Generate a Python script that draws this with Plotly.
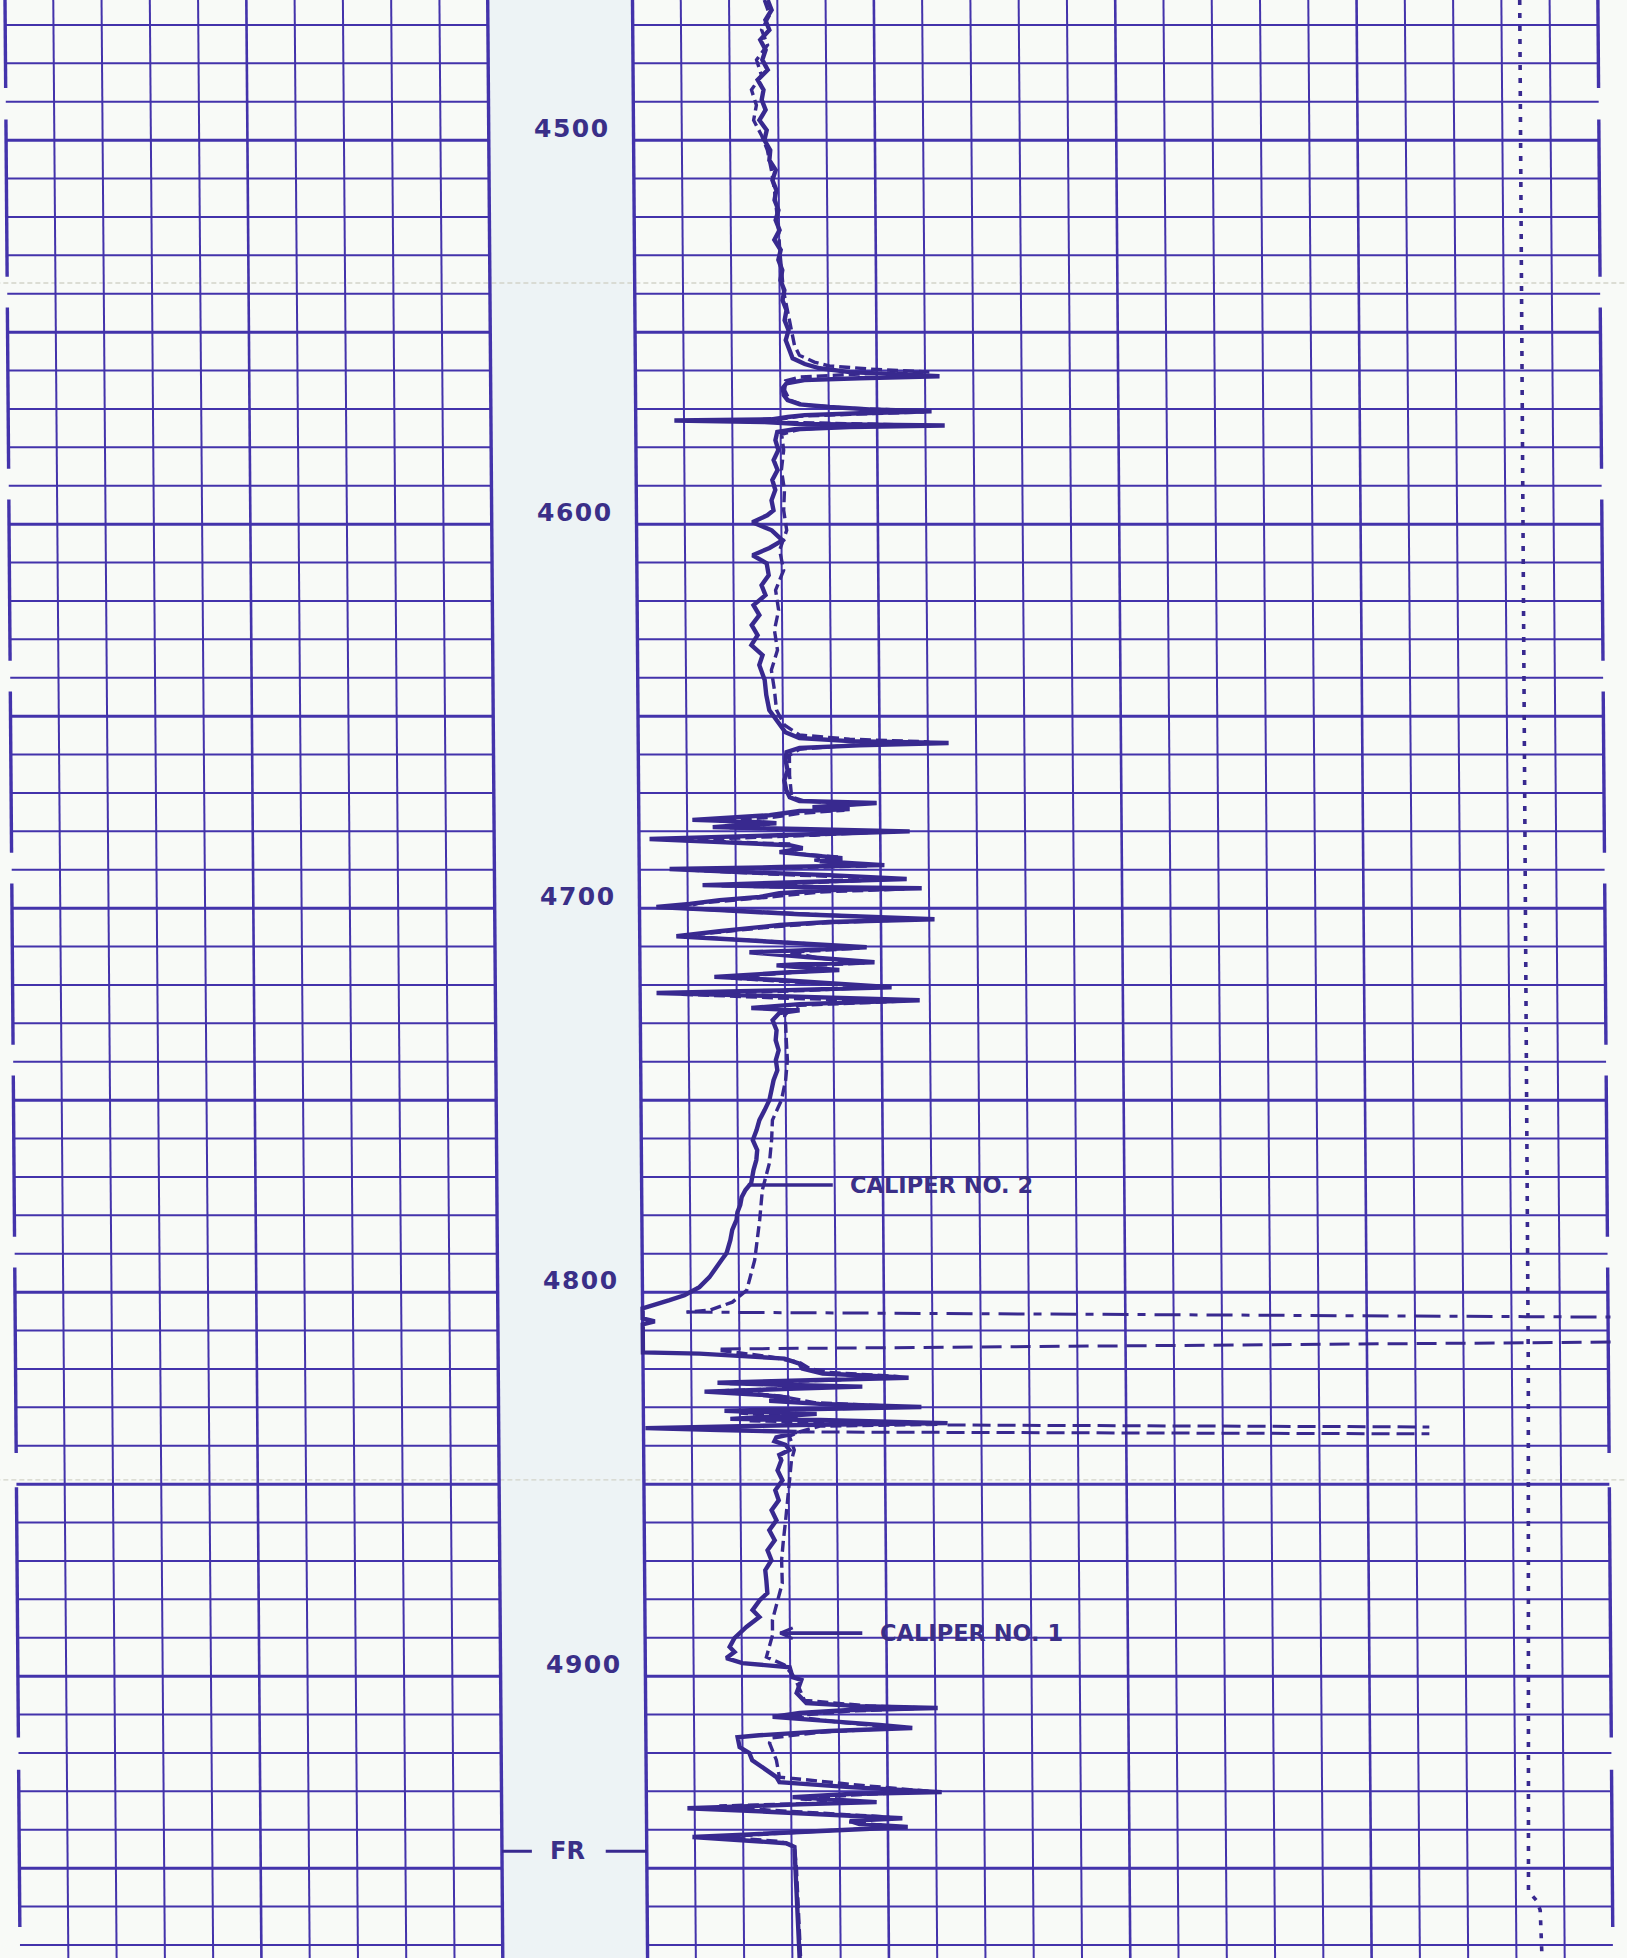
import plotly.graph_objects as go

# ---------------- data (depth in feet, readings in chart divisions of the right track, 0..20) -------------
TOP_DEPTH, BOTTOM_DEPTH = 4463.5, 4973.4
DEPTH_LABELS = [4500, 4600, 4700, 4800, 4900]
FR_DEPTH = 4945.6

# Caliper No. 2 (solid curve)
CAL2_DEPTH = [
    4463.5, 4466.1, 4468.7, 4471.3, 4473.9, 4476.5, 4479.1, 4481.7, 4484.3, 4486.9,
    4489.5, 4492.1, 4494.8, 4497.4, 4500.0, 4502.6, 4505.2, 4507.8, 4510.4, 4513.0,
    4515.6, 4518.2, 4520.8, 4523.4, 4526.0, 4528.6, 4531.2, 4533.9, 4536.5, 4539.1,
    4541.7, 4544.3, 4546.9, 4549.5, 4552.1, 4554.7, 4556.8, 4558.3, 4559.4, 4560.4,
    4561.5, 4562.0, 4562.5, 4563.3, 4564.6, 4566.4, 4567.7, 4568.8, 4569.5, 4570.1,
    4570.6, 4571.1, 4571.6, 4572.1, 4572.7, 4573.0, 4573.4, 4573.9, 4574.3, 4574.7,
    4575.3, 4576.0, 4578.1, 4580.7, 4583.3, 4585.9, 4588.5, 4591.1, 4593.8, 4596.4,
    4597.7, 4599.5, 4601.6, 4604.2, 4606.2, 4608.1, 4610.2, 4613.3, 4615.9, 4618.5,
    4621.1, 4623.7, 4626.3, 4628.9, 4631.5, 4634.1, 4636.7, 4640.6, 4644.5, 4648.4,
    4651.6, 4654.2, 4655.7, 4656.5, 4657.0, 4657.6, 4658.3, 4659.4, 4661.5, 4664.1,
    4666.7, 4669.3, 4671.1, 4672.1, 4672.6, 4673.2, 4673.7, 4674.2, 4674.7, 4675.8,
    4677.0, 4677.6, 4677.9, 4678.4, 4678.9, 4679.4, 4680.0, 4680.7, 4681.2, 4682.0,
    4682.8, 4683.6, 4684.4, 4685.4, 4686.2, 4687.0, 4687.8, 4688.8, 4689.3, 4689.8,
    4690.6, 4691.4, 4692.4, 4693.2, 4694.0, 4694.5, 4694.8, 4695.3, 4696.1, 4697.1,
    4697.9, 4698.9, 4699.7, 4700.5, 4701.6, 4702.9, 4703.6, 4704.4, 4704.9, 4706.0,
    4707.3, 4708.3, 4709.4, 4710.2, 4711.0, 4711.5, 4712.8, 4714.1, 4714.6, 4714.9,
    4715.6, 4716.1, 4716.7, 4717.4, 4717.9, 4718.7, 4719.8, 4720.6, 4721.4, 4722.1,
    4722.9, 4724.0, 4725.0, 4726.0, 4726.6, 4727.3, 4729.2, 4731.8, 4734.4, 4737.0,
    4739.6, 4742.2, 4744.8, 4747.4, 4750.0, 4752.6, 4755.2, 4757.8, 4760.4, 4763.0,
    4765.6, 4768.2, 4771.6, 4773.4, 4775.3, 4777.3, 4779.2, 4781.2, 4783.8, 4786.4,
    4789.8, 4791.7, 4793.5, 4796.1, 4798.7, 4800.8, 4802.1, 4803.4, 4804.2, 4806.8,
    4807.6, 4808.4, 4815.7, 4816.0, 4816.8, 4817.3, 4818.6, 4819.9, 4821.2, 4822.3,
    4822.8, 4823.6, 4824.1, 4824.6, 4825.2, 4825.9, 4826.7, 4827.5, 4828.3, 4829.1,
    4829.9, 4830.4, 4830.9, 4831.5, 4831.7, 4832.3, 4833.0, 4833.3, 4834.1, 4834.6,
    4835.4, 4835.9, 4836.4, 4837.2, 4837.8, 4838.8, 4839.8, 4841.1, 4842.4, 4843.8,
    4846.4, 4849.0, 4851.6, 4854.2, 4856.8, 4859.4, 4862.0, 4864.6, 4867.2, 4869.8,
    4872.4, 4875.0, 4878.4, 4880.2, 4882.8, 4884.6, 4887.2, 4890.1, 4892.4, 4893.7,
    4895.3, 4896.6, 4897.7, 4900.3, 4901.0, 4904.4, 4907.0, 4907.8, 4908.3, 4908.8,
    4909.6, 4910.6, 4911.4, 4912.7, 4913.5, 4914.3, 4915.4, 4915.9, 4918.5, 4920.0,
    4921.9, 4923.7, 4926.3, 4927.6, 4928.9, 4930.2, 4930.7, 4931.5, 4932.3, 4932.8,
    4933.4, 4934.4, 4935.2, 4936.2, 4937.0, 4937.7, 4938.5, 4939.3, 4940.1, 4941.2,
    4941.9, 4942.7, 4943.5, 4944.5, 4950.5, 4958.3, 4966.1, 4973.4,
]
CAL2_VALUE = [
    2.80, 2.88, 2.75, 2.83, 2.64, 2.75, 2.68, 2.79, 2.58, 2.70,
    2.66, 2.74, 2.61, 2.76, 2.71, 2.83, 2.81, 2.94, 2.87, 2.95,
    2.91, 2.99, 2.93, 3.01, 2.90, 3.03, 2.98, 3.06, 3.02, 3.10,
    3.06, 3.14, 3.10, 3.18, 3.12, 3.20, 3.26, 3.51, 3.82, 4.44,
    6.30, 4.64, 3.50, 3.13, 3.05, 3.07, 3.15, 3.40, 4.02, 4.84,
    6.13, 4.64, 3.50, 3.15, 2.81, 0.80, 2.67, 3.39, 6.40, 4.43,
    3.29, 2.93, 2.89, 2.95, 2.85, 2.93, 2.82, 2.88, 2.80, 2.84,
    2.71, 2.40, 2.80, 3.02, 2.75, 2.40, 2.69, 2.73, 2.58, 2.66,
    2.41, 2.53, 2.37, 2.49, 2.36, 2.59, 2.52, 2.63, 2.66, 2.72,
    2.89, 3.05, 3.34, 4.38, 6.43, 4.58, 3.34, 3.07, 3.05, 3.09,
    3.02, 3.06, 3.13, 3.33, 4.93, 3.95, 3.60, 4.37, 3.33, 2.71,
    1.11, 2.50, 2.85, 2.08, 1.53, 3.33, 5.61, 3.74, 2.50, 0.22,
    1.67, 3.12, 3.39, 2.91, 3.53, 4.21, 3.74, 5.08, 2.91, 0.63,
    2.08, 3.94, 5.54, 3.32, 1.31, 3.32, 5.85, 3.94, 2.90, 2.49,
    1.66, 1.04, 0.35, 1.66, 3.31, 6.11, 3.93, 2.90, 2.48, 1.65,
    0.76, 2.07, 3.31, 4.70, 3.31, 2.27, 3.51, 4.86, 3.31, 2.83,
    3.51, 4.13, 3.10, 2.27, 1.54, 2.89, 4.13, 5.21, 2.89, 0.34,
    2.89, 5.79, 3.30, 2.30, 3.30, 2.88, 2.74, 2.82, 2.80, 2.86,
    2.80, 2.83, 2.75, 2.71, 2.66, 2.56, 2.45, 2.39, 2.31, 2.40,
    2.38, 2.32, 2.27, 2.15, 2.07, 2.04, 1.98, 1.96, 1.87, 1.83,
    1.75, 1.64, 1.54, 1.39, 1.18, 0.87, 0.56, 0.25, 0.00, 0.00,
    0.25, 0.00, 0.00, 1.17, 2.41, 2.93, 3.24, 3.30, 3.72, 5.50,
    3.86, 1.54, 2.82, 4.54, 3.03, 1.27, 2.41, 3.03, 2.61, 3.65,
    5.76, 3.23, 1.68, 3.03, 3.59, 2.82, 1.80, 3.65, 6.30, 3.23,
    0.04, 1.57, 3.17, 2.96, 2.75, 2.71, 2.94, 3.02, 2.81, 2.85,
    2.77, 2.87, 2.72, 2.79, 2.64, 2.74, 2.59, 2.70, 2.55, 2.63,
    2.50, 2.52, 2.54, 2.38, 2.23, 2.37, 2.10, 1.85, 1.75, 1.85,
    1.68, 2.01, 2.99, 3.05, 3.23, 3.13, 3.33, 4.43, 6.05, 4.22,
    3.19, 2.63, 3.60, 4.84, 5.52, 3.80, 2.35, 1.90, 1.94, 2.14,
    2.20, 2.41, 2.70, 2.76, 4.21, 6.12, 4.21, 3.03, 4.21, 4.77,
    3.17, 0.85, 2.34, 4.21, 5.30, 4.21, 4.41, 5.41, 3.79, 2.13,
    0.95, 2.13, 2.89, 3.06, 3.08, 3.09, 3.13, 3.15,
]

# Caliper No. 1 (dashed curve); None marks the off-scale interval
CAL1_DEPTH = [
    4463.5, 4467.4, 4471.3, 4475.2, 4479.1, 4483.1, 4486.9, 4490.9, 4494.8, 4498.7,
    4502.6, 4507.8, 4513.0, 4518.2, 4523.4, 4528.6, 4533.9, 4539.1, 4544.3, 4549.5,
    4553.4, 4556.0, 4557.8, 4558.8, 4559.6, 4560.4, 4560.9, 4561.7, 4562.7, 4565.1,
    4567.7, 4569.0, 4569.8, 4570.3, 4570.8, 4571.4, 4571.9, 4572.7, 4573.0, 4573.4,
    4574.1, 4574.5, 4575.3, 4576.6, 4580.7, 4585.9, 4591.1, 4596.4, 4601.6, 4606.8,
    4612.0, 4617.2, 4622.4, 4627.6, 4632.8, 4638.0, 4643.2, 4648.4, 4652.3, 4654.9,
    4656.0, 4656.7, 4657.6, 4658.6, 4660.2, 4665.4, 4671.1, 4672.1, 4672.9, 4673.7,
    4674.5, 4675.3, 4676.3, 4677.3, 4678.1, 4679.1, 4680.0, 4681.0, 4682.3, 4683.3,
    4684.6, 4685.6, 4686.7, 4687.5, 4689.0, 4689.5, 4690.1, 4691.1, 4692.4, 4693.5,
    4694.2, 4695.0, 4695.8, 4697.1, 4698.7, 4700.0, 4701.3, 4702.9, 4703.9, 4705.2,
    4706.8, 4707.6, 4709.1, 4710.4, 4711.5, 4713.0, 4714.3, 4715.1, 4716.1, 4717.2,
    4718.2, 4719.3, 4720.6, 4721.6, 4722.4, 4723.5, 4724.2, 4725.3, 4726.6, 4727.9,
    4730.5, 4734.4, 4739.6, 4744.8, 4750.0, 4755.2, 4760.4, 4766.4, 4773.4, 4781.2,
    4791.7, 4799.5, 4802.6, 4804.7, 4805.2, None,
    4815.2, 4816.8, 4818.3, 4819.9, 4820.9, 4822.0, 4822.8, 4823.8, 4824.6, 4825.7,
    4827.0, 4828.8, 4829.9, 4830.6, 4831.5, 4832.5, 4833.5, 4834.4, 4834.9, 4836.4,
    4837.5, 4839.1, 4841.1, 4843.8, 4849.0, 4854.2, 4859.4, 4864.6, 4869.8, 4875.8,
    4880.2, 4885.4, 4889.3, 4895.0, 4897.1, 4900.3, 4906.3, 4907.8, 4908.3, 4909.1,
    4910.4, 4912.0, 4913.5, 4914.6, 4916.1, 4917.4, 4921.9, 4926.3, 4928.4, 4930.0,
    4931.0, 4932.0, 4932.8, 4933.8, 4934.9, 4936.7, 4938.0, 4939.3, 4940.6, 4941.9,
    4943.0, 4944.3, 4950.5, 4973.4,
]
CAL1_VALUE = [
    2.73, 2.84, 2.67, 2.79, 2.56, 2.66, 2.45, 2.55, 2.49, 2.65,
    2.77, 2.85, 2.91, 2.95, 2.99, 3.01, 3.04, 3.08, 3.16, 3.24,
    3.30, 3.40, 3.71, 4.02, 4.85, 6.09, 4.64, 3.40, 3.11, 3.09,
    3.19, 3.50, 4.43, 5.47, 5.98, 4.43, 3.39, 2.98, 1.32, 2.77,
    5.46, 4.43, 3.39, 3.02, 3.06, 3.01, 3.07, 3.05, 3.11, 2.96,
    3.04, 2.87, 2.93, 2.84, 2.90, 2.77, 2.83, 2.87, 3.03, 3.34,
    4.38, 6.03, 4.38, 3.34, 3.13, 3.13, 3.17, 3.44, 4.57, 3.74,
    4.26, 3.33, 2.81, 1.67, 2.71, 1.88, 5.19, 3.64, 0.84, 3.12,
    3.32, 3.01, 4.15, 3.63, 4.77, 3.11, 1.04, 2.70, 5.29, 3.32,
    1.66, 5.49, 3.73, 2.70, 1.24, 0.83, 2.90, 5.80, 3.73, 2.48,
    1.24, 1.24, 3.31, 4.55, 3.10, 3.72, 4.65, 3.31, 3.93, 2.68,
    1.85, 3.30, 4.96, 3.09, 0.81, 3.09, 5.47, 3.30, 3.09, 2.99,
    3.01, 3.02, 3.04, 3.00, 2.91, 2.72, 2.70, 2.65, 2.50, 2.44,
    2.33, 2.16, 1.86, 1.39, 0.91, None,
    1.61, 2.62, 3.24, 3.45, 3.86, 5.31, 4.07, 1.79, 4.27, 1.58,
    2.82, 3.55, 5.51, 3.23, 1.99, 3.23, 2.20, 6.13, 3.65, 3.23,
    3.02, 3.06, 3.12, 3.06, 3.02, 2.97, 2.93, 2.88, 2.84, 2.85,
    2.75, 2.64, 2.64, 2.51, 2.88, 3.09, 3.29, 4.64, 5.88, 4.22,
    2.98, 4.01, 5.26, 3.60, 2.60, 2.56, 2.70, 2.76, 4.42, 5.87,
    4.21, 3.17, 4.42, 1.51, 2.55, 5.03, 4.20, 5.24, 3.17, 1.51,
    2.75, 3.06, 3.10, 3.17,
]

# off-scale excursions drawn across the track
DASHDOT_DEPTH, DASHDOT_VALUE = [4805.2, 4806.5], [0.91, 20.05]
DASHED_DEPTH, DASHED_VALUE = [4814.8, 4813.0], [1.61, 20.05]
DOUBLE_UP_DEPTH, DOUBLE_UP_VALUE = [4834.6, 4835.1], [6.30, 16.28]
DOUBLE_LO_DEPTH, DOUBLE_LO_VALUE = [4836.4, 4836.9], [3.17, 16.28]

# dotted curve near the right edge
DOTTED_DEPTH = [4463.5, 4568.0, 4700.0, 4820.0, 4956.0, 4958.5, 4961.0, 4973.4]
DOTTED_VALUE = [18.38, 18.37, 18.36, 18.34, 18.26, 18.43, 18.50, 18.53]

# annotations
CAL2_LABEL_DEPTH, CAL2_LEADER = 4772.1, [2.20, 3.96]
CAL1_LABEL_DEPTH, CAL1_LEADER = 4888.8, [2.80, 4.50]

# gaps in the outer borders (depth ranges)
BORDER_GAPS = [(4486.4, 4494.6), (4535.6, 4543.6), (4585.6, 4593.6), (4635.6, 4643.6),
               (4685.6, 4693.6), (4735.6, 4743.6), (4785.6, 4793.6), (4841.9, 4850.8),
               (4916.0, 4924.4), (4965.3, 4973.4)]

# ---------------- styling ----------------
GRID = "#4333ab"
INK = "#38298f"
TEXT = "#3a2f88"
PAPER = "#f8faf7"
COLUMN = "#edf3f5"
LEFT0, LEFT1, RIGHT0, RIGHT1 = 0, 10, 13, 33
SKEW = 0.3125 / (BOTTOM_DEPTH - TOP_DEPTH)   # scan skew (divisions per foot)


def sx(d):
    return SKEW * (d - TOP_DEPTH)


def track(values, depths):
    return [None if v is None else RIGHT0 + v + sx(d) for v, d in zip(values, depths)]


assert len(CAL2_DEPTH) == len(CAL2_VALUE)
assert len(CAL1_DEPTH) == len(CAL1_VALUE)

fig = go.Figure()

# depth column background
T, B = TOP_DEPTH, BOTTOM_DEPTH
fig.add_trace(go.Scatter(x=[LEFT1 + sx(T), RIGHT0 + sx(T), RIGHT0 + sx(B), LEFT1 + sx(B), LEFT1 + sx(T)],
                         y=[T, T, B, B, T], fill="toself", fillcolor=COLUMN, mode="lines",
                         line=dict(width=0, color=COLUMN), hoverinfo="skip"))

# faint folds in the paper
for fd in [4537.2, 4848.9]:
    fig.add_trace(go.Scatter(x=[-0.2, 33.7], y=[fd, fd], mode="lines",
                             line=dict(color="#d2d4c9", width=1.4, dash="5px,3px"), hoverinfo="skip"))

groups = {"thin": ([], []), "mid": ([], []), "heavy": ([], []), "border": ([], [])}


def seg(g, x0, d0, x1, d1):
    xs, ys = groups[g]
    xs += [x0 + sx(d0), x1 + sx(d1), None]
    ys += [d0, d1, None]


for d in range(4470, 4971, 10):
    g = "heavy" if d % 50 == 0 else "thin"
    seg(g, LEFT0, d, LEFT1, d)
    seg(g, RIGHT0, d, RIGHT1, d)
for i in range(1, 10):
    seg("mid" if i == 5 else "thin", i, T, i, B)
for j in range(1, 20):
    seg("mid" if j % 5 == 0 else "thin", RIGHT0 + j, T, RIGHT0 + j, B)
seg("border", LEFT1, T, LEFT1, B)
seg("border", RIGHT0, T, RIGHT0, B)
edges = [T]
for a, b in BORDER_GAPS:
    edges += [a, b]
edges.append(B)
for k in range(0, len(edges) - 1, 2):
    if edges[k + 1] > edges[k]:
        seg("border", LEFT0, edges[k], LEFT0, edges[k + 1])
        seg("border", RIGHT1, edges[k], RIGHT1, edges[k + 1])

widths = {"thin": 2.0, "mid": 2.6, "heavy": 3.0, "border": 3.4}
for g, (xs, ys) in groups.items():
    fig.add_trace(go.Scatter(x=xs, y=ys, mode="lines", line=dict(color=GRID, width=widths[g]),
                             hoverinfo="skip", connectgaps=False))

# dotted curve
fig.add_trace(go.Scatter(x=track(DOTTED_VALUE, DOTTED_DEPTH), y=DOTTED_DEPTH, mode="lines",
                         line=dict(color=INK, width=3.6, dash="5px,8px"), hoverinfo="skip"))

# off-scale lines
for dd, vv, dash in [(DASHDOT_DEPTH, DASHDOT_VALUE, "26px,9px,8px,9px"),
                     (DASHED_DEPTH, DASHED_VALUE, "20px,9px"),
                     (DOUBLE_UP_DEPTH, DOUBLE_UP_VALUE, "18px,7px"),
                     (DOUBLE_LO_DEPTH, DOUBLE_LO_VALUE, "18px,7px")]:
    fig.add_trace(go.Scatter(x=track(vv, dd), y=dd, mode="lines",
                             line=dict(color=INK, width=3.0, dash=dash), hoverinfo="skip"))

# caliper curves
fig.add_trace(go.Scatter(x=track(CAL1_VALUE, CAL1_DEPTH), y=CAL1_DEPTH, mode="lines",
                         line=dict(color=INK, width=3.4, dash="11px,5px"), hoverinfo="skip",
                         connectgaps=False))
fig.add_trace(go.Scatter(x=track(CAL2_VALUE, CAL2_DEPTH), y=CAL2_DEPTH, mode="lines",
                         line=dict(color=INK, width=4.4), hoverinfo="skip"))

# leaders
d2 = CAL2_LABEL_DEPTH
fig.add_trace(go.Scatter(x=track(CAL2_LEADER, [d2, d2]), y=[d2, d2], mode="lines",
                         line=dict(color=INK, width=3.6), hoverinfo="skip"))
d1 = CAL1_LABEL_DEPTH
fig.add_trace(go.Scatter(x=track(CAL1_LEADER, [d1, d1]), y=[d1, d1], mode="lines",
                         line=dict(color=INK, width=3.6), hoverinfo="skip"))
tip = CAL1_LEADER[0]
fig.add_trace(go.Scatter(x=track([tip + 0.26, tip, tip + 0.26], [d1 - 1.4, d1, d1 + 1.4]),
                         y=[d1 - 1.4, d1, d1 + 1.4], mode="lines",
                         line=dict(color=INK, width=3.0), hoverinfo="skip"))

# FR ticks
fig.add_trace(go.Scatter(x=[LEFT1 + sx(FR_DEPTH), LEFT1 + 0.62 + sx(FR_DEPTH), None,
                            RIGHT0 - 0.85 + sx(FR_DEPTH), RIGHT0 + sx(FR_DEPTH)],
                         y=[FR_DEPTH, FR_DEPTH, None, FR_DEPTH, FR_DEPTH], mode="lines",
                         line=dict(color=INK, width=3.0), hoverinfo="skip"))


def spaced(s, px):
    return f"<b><span style='letter-spacing:{px}px'>{s}</span></b>"


annotations = []
for d in DEPTH_LABELS:
    annotations.append(dict(x=11.72 + sx(d), y=d - 3.1, text=spaced(d, 1.5), showarrow=False,
                            xanchor="center", yanchor="middle",
                            font=dict(family="DejaVu Sans", size=25, color=TEXT)))
annotations.append(dict(x=11.35 + sx(FR_DEPTH), y=FR_DEPTH, text="<b>FR</b>", showarrow=False,
                        xanchor="center", yanchor="middle",
                        font=dict(family="DejaVu Sans", size=24, color=TEXT)))
annotations.append(dict(x=RIGHT0 + 4.27 + sx(d2), y=d2, text="<b>CALIPER NO. 2</b>", showarrow=False,
                        xanchor="left", yanchor="middle",
                        font=dict(family="DejaVu Sans", size=22.5, color=TEXT)))
annotations.append(dict(x=RIGHT0 + 4.82 + sx(d1), y=d1, text="<b>CALIPER NO. 1</b>", showarrow=False,
                        xanchor="left", yanchor="middle",
                        font=dict(family="DejaVu Sans", size=22.5, color=TEXT)))

fig.update_layout(
    width=1627, height=1958, margin=dict(l=0, r=0, t=0, b=0),
    paper_bgcolor=PAPER, plot_bgcolor=PAPER, showlegend=False,
    xaxis=dict(range=[-0.1036, 33.603], visible=False, fixedrange=True),
    yaxis=dict(range=[BOTTOM_DEPTH, TOP_DEPTH], visible=False, fixedrange=True),
    annotations=annotations,
)

fig.write_html("out.html", config={"displayModeBar": False},
               post_script="document.body.style.margin='0';document.body.style.background='%s';" % PAPER)
